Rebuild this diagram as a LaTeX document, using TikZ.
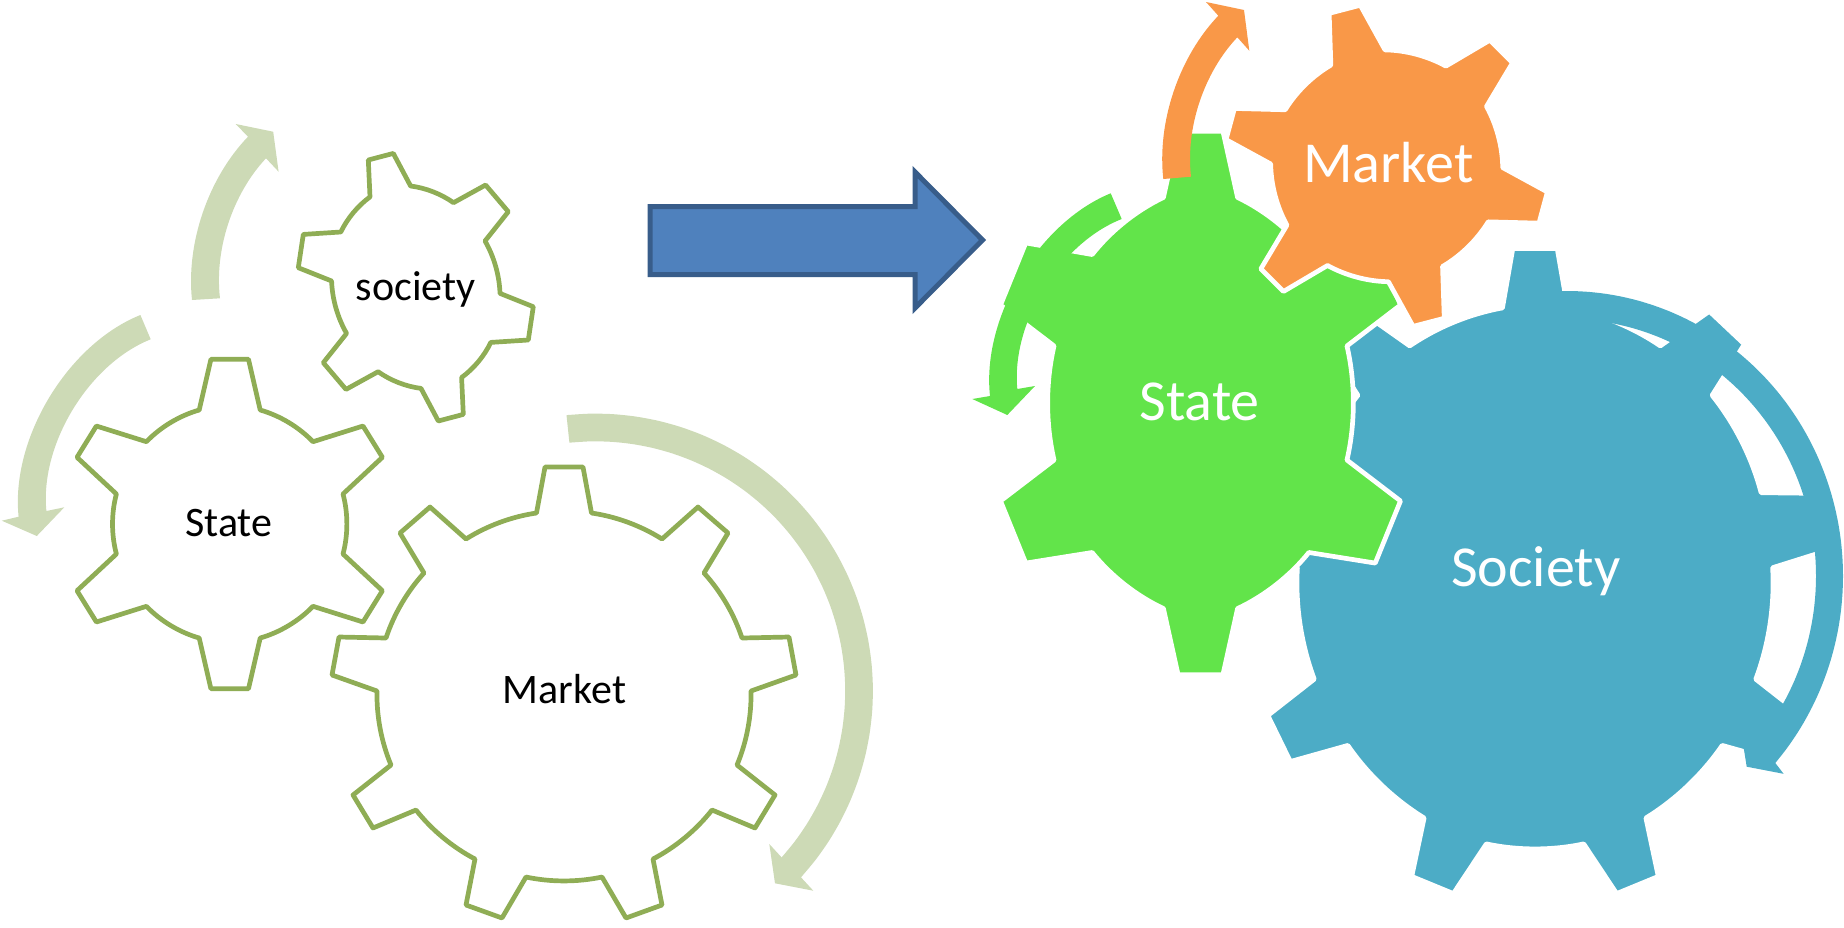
\documentclass[tikz,border=0pt]{standalone}
\usepackage{fontspec}
\usepackage{xcolor}
\usepackage{tikz}
\setmainfont{Carlito}
\definecolor{leafline}{RGB}{143, 173, 85}
\definecolor{leafarrow}{RGB}{205, 218, 182}
\definecolor{stategreen}{RGB}{98, 228, 74}
\definecolor{marketorange}{RGB}{249, 152, 72}
\definecolor{societyblue}{RGB}{76, 172, 198}
\definecolor{bigarrowfill}{RGB}{79, 129, 189}
\definecolor{bigarrowline}{RGB}{56, 93, 138}
\tikzset{
    every to/.style={looseness=.85},
    rim/.style={bend left=14},
    outlinegear/.style={draw=leafline, fill=white, line width=4.7pt, line join=round},
    solidgear/.style={draw=white, fill=#1, line width=4.7pt, line join=round},
    smalllabel/.style={anchor=base, font=\fontsize{42}{42}\selectfont, text=black},
    biglabel/.style={anchor=base, font=\fontsize{58}{58}\selectfont, text=white}
}
\newcommand{\tooth}[4]{-- (#1) -- (#2) -- (#3) to[rim] (#4)}

\begin{document}
\begin{tikzpicture}[x=1pt, y=-1pt]
    \useasboundingbox (0,0) rectangle (1844,927);

    % before: outlined gears
    \fill[leafarrow] (192,300) to[bend left=25] (248,136.7) -- (235.7,124) -- (273.2,131.7) -- (278.6,171.7) -- (266,158.3) to[bend right=25] (220,298.3) -- cycle;
    \fill[leafarrow] (140.4,315) to[bend right=37] (18.6,516.7) -- (1.8,520.7) -- (36.8,536) -- (64.3,507.3) -- (46.4,511) to[bend left=37] (150.7,339.3) -- cycle;
    \fill[leafarrow] plot[domain=-96:42.2, samples=30, smooth] ({595.5+277.4*cos(\x)},{691+277.4*sin(\x)}) -- (813.3,890.7) -- (775,883.3) -- (769.3,844) -- plot[domain=41.8:-96, samples=30, smooth] ({595.5+249.7*cos(\x)},{691+249.7*sin(\x)}) -- cycle;

    \draw[outlinegear, shift={(229.7,524)}, rim/.style={bend left=15}] (-30.5,-114)
        \tooth{-18.8,-164.7}{18.8,-164.7}{30.5,-114}{83.3,-82.3}
        \tooth{133.3,-98}{152.7,-66.7}{113.3,-30}{113.3,30}
        \tooth{152.7,66.7}{133.3,98}{83.3,82.3}{30.5,114}
        \tooth{18.8,164.7}{-18.8,164.7}{-30.5,114}{-83.3,82.3}
        \tooth{-133.3,98}{-152.7,66.7}{-113.3,30}{-113.3,-30}
        \tooth{-152.7,-66.7}{-133.3,-98}{-83.3,-82.3}{-30.5,-114} -- cycle;
    \draw[outlinegear, shift={(415.8,287.2)}] (-45.8,-90.3)
        \tooth{-47.5,-127.2}{-22.5,-133.8}{-5.2,-101.2}{37.7,-84.5}
        \tooth{69.8,-102.2}{92.5,-75.5}{69.2,-46.2}{84.2,6.2}
        \tooth{117.5,19.5}{112.5,52.8}{75,55.2}{45.8,90.3}
        \tooth{47.5,127.2}{22.5,133.8}{5.2,101.2}{-37.7,84.5}
        \tooth{-69.8,102.2}{-92.5,75.5}{-69.2,46.2}{-84.2,-6.2}
        \tooth{-117.5,-19.5}{-112.5,-52.8}{-75,-55.2}{-45.8,-90.3} -- cycle;
    \draw[outlinegear, shift={(564,690)}, rim/.style={bend left=12}] (-27.5,-177)
        \tooth{-19,-223}{19,-223}{27.5,-177}{98,-151}
        \tooth{134,-183}{164,-157}{140,-117}{178,-52}
        \tooth{225,-53}{232,-15}{187,1}{173,75}
        \tooth{211,105}{191,138}{148,120}{89,169}
        \tooth{98,215}{62,228}{38,187}{-38,187}
        \tooth{-62,228}{-98,215}{-89,169}{-148,120}
        \tooth{-191,138}{-211,105}{-173,75}{-187,1}
        \tooth{-232,-15}{-225,-53}{-178,-52}{-140,-117}
        \tooth{-164,-157}{-134,-183}{-98,-151}{-27.5,-177} -- cycle;

    \node[smalllabel] (statesmall) at (228.8,536.7) {State};
    \node[smalllabel] (societysmall) at (415.8,300) {society};
    \node[smalllabel] (marketsmall) at (564.5,703.3) {Market};

    % the big arrow in the middle
    \draw[fill=bigarrowfill, draw=bigarrowline, line width=5pt] (650,206.7) -- (915,206.7) -- (915,172) -- (982.5,240) -- (915,308) -- (915,274.7) -- (650,274.7) -- cycle;

    % after: filled gears
    \draw[solidgear=societyblue, shift={(1535,570)}, scale=1.008, rim/.style={bend left=12}] (-32.3,-260)
        \tooth{-22,-319}{22,-319}{32.3,-260}{124.3,-222.3}
        \tooth{173,-256.7}{207.7,-224}{175.7,-173.3}{224.3,-76.7}
        \tooth{283,-76}{292,-20}{235.7,-2.3}{219,108.3}
        \tooth{265,144.3}{242.7,190}{185.7,174}{110,246}
        \tooth{122.3,304}{81,321}{48.3,271.7}{-48.3,271.7}
        \tooth{-81,321}{-122.3,304}{-110,246}{-185.7,174}
        \tooth{-242.7,190}{-265,144.3}{-219,108.3}{-235.7,-2.3}
        \tooth{-292,-20}{-283,-76}{-224.3,-76.7}{-175.7,-173.3}
        \tooth{-207.7,-224}{-173,-256.7}{-124.3,-222.3}{-32.3,-260} -- cycle;
    \fill[societyblue] plot[domain=-92:41, samples=40, smooth] ({1567+276*cos(\x)},{576+285*sin(\x)}) -- (1783.6,773.8) -- (1746.7,766.7) -- (1740,725) -- plot[domain=41:-92, samples=40, smooth] ({1567+249*cos(\x)},{576+257*sin(\x)}) -- cycle;

    \draw[solidgear=stategreen, shift={(1200.5,403)}, scale=1.01, rim/.style={bend left=13}] (-36.7,-203.5)
        \tooth{-22.2,-269}{22.2,-269}{36.7,-203.5}{107.3,-147}
        \tooth{173,-158.5}{198,-97}{145,-56.5}{145,56.5}
        \tooth{198,97}{173,158.5}{107.3,148}{36.7,203.5}
        \tooth{22.2,269}{-22.2,269}{-36.7,203.5}{-107.3,148}
        \tooth{-173,158.5}{-198,97}{-145,56.5}{-145,-56.5}
        \tooth{-198,-97}{-173,-158.5}{-107.3,-147}{-36.7,-203.5} -- cycle;
    \fill[stategreen] (1110.7,193.3) to[bend right=37] (990,396) -- (972.3,399) -- (1007.3,415) -- (1035,386) -- (1017.3,389) to[bend left=37] (1121.7,219) -- cycle;

    \draw[solidgear=marketorange, shift={(1386.7,165.8)}, scale=1.015] (-55,-99.2)
        \tooth{-56.7,-150.2}{-26,-158.2}{-1.7,-114.2}{58.3,-98.2}
        \tooth{101.7,-123.8}{124,-101.5}{98.3,-58.5}{114.3,1.8}
        \tooth{158.3,25.8}{150,56.5}{100,55.2}{55,99.2}
        \tooth{56.7,150.2}{26,158.2}{1.7,114.2}{-58.3,98.2}
        \tooth{-101.7,123.8}{-124,101.5}{-98.3,58.5}{-114.3,-1.8}
        \tooth{-158.3,-25.8}{-150,-56.5}{-100,-55.2}{-55,-99.2} -- cycle;
    \fill[marketorange] (1163.3,179) to[bend left=25] (1218.3,15.7) -- (1206,2) -- (1244,10) -- (1249.3,50.7) -- (1237.3,37.3) to[bend right=25] (1191,176.7) -- cycle;

    \node[biglabel] (statebig) at (1199.7,420) {State};
    \node[biglabel] (marketbig) at (1388.3,182.3) {Market};
    \node[biglabel] (societybig) at (1535.8,586.7) {Society};
\end{tikzpicture}
\end{document}
